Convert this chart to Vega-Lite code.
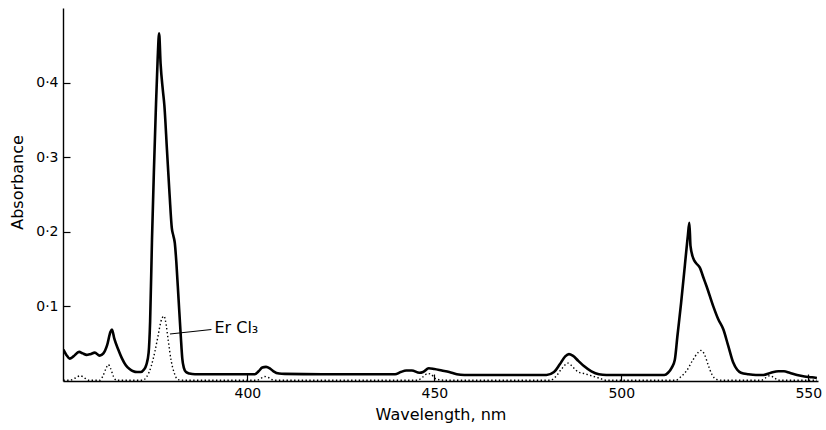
{
  "$schema": "https://vega.github.io/schema/vega-lite/v6.json",
  "width": 755,
  "height": 373,
  "autosize": "none",
  "padding": {"left": 63, "top": 8, "right": 8, "bottom": 49},
  "background": "white",
  "config": {
    "view": {"stroke": null},
    "font": "DejaVu Sans",
    "axis": {
      "grid": false,
      "domainColor": "black",
      "domainWidth": 1.4,
      "tickColor": "black",
      "tickWidth": 1.2,
      "tickSize": -7,
      "labelPadding": 12,
      "labelColor": "black",
      "labelFontSize": 14,
      "labelFont": "DejaVu Sans",
      "titleColor": "black",
      "titleFont": "DejaVu Sans",
      "titleFontSize": 16,
      "titleFontWeight": "normal"
    }
  },
  "datasets": {
    "solid": [
      {"nm": 350.8, "A": 0.042}, {"nm": 351.6, "A": 0.035}, {"nm": 352.5, "A": 0.030}, {"nm": 353.5, "A": 0.033},
      {"nm": 355.0, "A": 0.039}, {"nm": 356.0, "A": 0.037}, {"nm": 357.0, "A": 0.035}, {"nm": 358.0, "A": 0.036},
      {"nm": 359.2, "A": 0.038}, {"nm": 360.5, "A": 0.034}, {"nm": 361.5, "A": 0.037}, {"nm": 362.5, "A": 0.048},
      {"nm": 363.4, "A": 0.066}, {"nm": 363.8, "A": 0.069}, {"nm": 364.4, "A": 0.057}, {"nm": 365.5, "A": 0.042},
      {"nm": 366.5, "A": 0.030}, {"nm": 367.5, "A": 0.021}, {"nm": 368.5, "A": 0.016}, {"nm": 369.5, "A": 0.013},
      {"nm": 370.5, "A": 0.012}, {"nm": 371.5, "A": 0.012}, {"nm": 372.3, "A": 0.015}, {"nm": 373.0, "A": 0.022},
      {"nm": 373.6, "A": 0.038}, {"nm": 374.0, "A": 0.080}, {"nm": 374.5, "A": 0.190}, {"nm": 375.0, "A": 0.280},
      {"nm": 375.5, "A": 0.360}, {"nm": 376.0, "A": 0.430}, {"nm": 376.4, "A": 0.466}, {"nm": 376.8, "A": 0.425},
      {"nm": 377.4, "A": 0.390}, {"nm": 377.8, "A": 0.370}, {"nm": 378.5, "A": 0.310}, {"nm": 379.2, "A": 0.250},
      {"nm": 379.8, "A": 0.205}, {"nm": 380.2, "A": 0.195}, {"nm": 380.6, "A": 0.185}, {"nm": 381.0, "A": 0.160},
      {"nm": 381.6, "A": 0.110}, {"nm": 382.2, "A": 0.060}, {"nm": 382.6, "A": 0.030}, {"nm": 383.0, "A": 0.018},
      {"nm": 383.6, "A": 0.012}, {"nm": 384.5, "A": 0.010}, {"nm": 386.0, "A": 0.009}, {"nm": 395.0, "A": 0.009},
      {"nm": 402.0, "A": 0.009}, {"nm": 403.0, "A": 0.013}, {"nm": 404.0, "A": 0.018}, {"nm": 405.0, "A": 0.019},
      {"nm": 406.0, "A": 0.017}, {"nm": 407.0, "A": 0.013}, {"nm": 408.5, "A": 0.010}, {"nm": 410.0, "A": 0.0095},
      {"nm": 420.0, "A": 0.009}, {"nm": 430.0, "A": 0.009}, {"nm": 439.5, "A": 0.009}, {"nm": 441.0, "A": 0.012},
      {"nm": 442.5, "A": 0.014}, {"nm": 444.0, "A": 0.014}, {"nm": 446.0, "A": 0.011}, {"nm": 447.0, "A": 0.012},
      {"nm": 448.5, "A": 0.017}, {"nm": 450.0, "A": 0.016}, {"nm": 452.0, "A": 0.014}, {"nm": 454.0, "A": 0.012},
      {"nm": 456.0, "A": 0.009}, {"nm": 458.0, "A": 0.008}, {"nm": 470.0, "A": 0.008}, {"nm": 480.0, "A": 0.008},
      {"nm": 482.0, "A": 0.012}, {"nm": 483.5, "A": 0.022}, {"nm": 485.0, "A": 0.033}, {"nm": 486.0, "A": 0.036},
      {"nm": 487.0, "A": 0.034}, {"nm": 488.5, "A": 0.027}, {"nm": 490.0, "A": 0.020}, {"nm": 492.0, "A": 0.013},
      {"nm": 494.0, "A": 0.009}, {"nm": 496.0, "A": 0.008}, {"nm": 505.0, "A": 0.008}, {"nm": 511.5, "A": 0.008},
      {"nm": 512.5, "A": 0.011}, {"nm": 513.5, "A": 0.018}, {"nm": 514.3, "A": 0.028}, {"nm": 515.0, "A": 0.060},
      {"nm": 516.0, "A": 0.105}, {"nm": 517.0, "A": 0.155}, {"nm": 517.8, "A": 0.195}, {"nm": 518.2, "A": 0.212},
      {"nm": 518.5, "A": 0.181}, {"nm": 519.2, "A": 0.165}, {"nm": 520.0, "A": 0.158}, {"nm": 521.0, "A": 0.152},
      {"nm": 522.0, "A": 0.138}, {"nm": 522.8, "A": 0.127}, {"nm": 524.6, "A": 0.100}, {"nm": 525.9, "A": 0.083},
      {"nm": 527.3, "A": 0.069}, {"nm": 528.6, "A": 0.047}, {"nm": 529.9, "A": 0.025}, {"nm": 531.0, "A": 0.015},
      {"nm": 532.0, "A": 0.011}, {"nm": 534.0, "A": 0.009}, {"nm": 536.0, "A": 0.008}, {"nm": 538.0, "A": 0.008},
      {"nm": 540.0, "A": 0.011}, {"nm": 542.0, "A": 0.013}, {"nm": 543.5, "A": 0.013}, {"nm": 545.0, "A": 0.011},
      {"nm": 547.0, "A": 0.008}, {"nm": 549.0, "A": 0.006}, {"nm": 551.0, "A": 0.005}, {"nm": 552.3, "A": 0.004}
    ],
    "dotted": [
      {"nm": 350.8, "A": 0.001}, {"nm": 352.5, "A": 0.001}, {"nm": 354.0, "A": 0.004}, {"nm": 355.3, "A": 0.007},
      {"nm": 356.5, "A": 0.004}, {"nm": 357.5, "A": 0.001}, {"nm": 360.5, "A": 0.001}, {"nm": 361.3, "A": 0.006},
      {"nm": 362.3, "A": 0.018}, {"nm": 362.8, "A": 0.022}, {"nm": 363.4, "A": 0.017}, {"nm": 364.2, "A": 0.006},
      {"nm": 365.0, "A": 0.001}, {"nm": 372.0, "A": 0.001}, {"nm": 373.0, "A": 0.005}, {"nm": 374.3, "A": 0.020},
      {"nm": 375.3, "A": 0.040}, {"nm": 376.1, "A": 0.060}, {"nm": 376.9, "A": 0.080}, {"nm": 377.7, "A": 0.087},
      {"nm": 378.3, "A": 0.075}, {"nm": 378.8, "A": 0.056}, {"nm": 379.6, "A": 0.028}, {"nm": 380.5, "A": 0.010},
      {"nm": 381.4, "A": 0.002}, {"nm": 383.0, "A": 0.001}, {"nm": 402.5, "A": 0.001}, {"nm": 403.5, "A": 0.003},
      {"nm": 404.5, "A": 0.006}, {"nm": 405.5, "A": 0.005}, {"nm": 406.5, "A": 0.002}, {"nm": 407.5, "A": 0.001},
      {"nm": 445.5, "A": 0.001}, {"nm": 446.8, "A": 0.005}, {"nm": 448.2, "A": 0.010}, {"nm": 449.2, "A": 0.009},
      {"nm": 450.0, "A": 0.004}, {"nm": 451.0, "A": 0.002}, {"nm": 453.0, "A": 0.001}, {"nm": 481.0, "A": 0.001},
      {"nm": 482.5, "A": 0.006}, {"nm": 484.0, "A": 0.016}, {"nm": 485.8, "A": 0.024}, {"nm": 487.0, "A": 0.019},
      {"nm": 488.5, "A": 0.012}, {"nm": 490.0, "A": 0.010}, {"nm": 492.0, "A": 0.007}, {"nm": 494.0, "A": 0.004},
      {"nm": 496.0, "A": 0.001}, {"nm": 514.5, "A": 0.001}, {"nm": 516.0, "A": 0.006}, {"nm": 517.5, "A": 0.014},
      {"nm": 519.0, "A": 0.027}, {"nm": 520.5, "A": 0.038}, {"nm": 521.3, "A": 0.041}, {"nm": 522.2, "A": 0.036},
      {"nm": 523.2, "A": 0.022}, {"nm": 524.2, "A": 0.009}, {"nm": 525.5, "A": 0.002}, {"nm": 527.0, "A": 0.001},
      {"nm": 537.5, "A": 0.001}, {"nm": 538.5, "A": 0.004}, {"nm": 539.7, "A": 0.007}, {"nm": 541.0, "A": 0.004},
      {"nm": 542.0, "A": 0.001}, {"nm": 552.3, "A": 0.001}
    ],
    "leader": [
      {"nm": 379.3, "A": 0.063, "nm2": 390.4, "A2": 0.069, "label": "Er Cl₃", "lnm": 391.2, "lA": 0.0715}
    ]
  },
  "layer": [
    {
      "data": {"name": "solid"},
      "mark": {"type": "line", "color": "black", "strokeWidth": 2.6, "interpolate": "monotone", "clip": true},
      "encoding": {
        "x": {"field": "nm", "type": "quantitative",
              "scale": {"domain": [350.7, 552.6], "nice": false, "zero": false},
              "axis": {"values": [400, 450, 500, 550], "title": "Wavelength, nm", "titleY": 33, "titleBaseline": "middle"}},
        "y": {"field": "A", "type": "quantitative",
              "scale": {"domain": [0, 0.5], "nice": false},
              "axis": {"values": [0.1, 0.2, 0.3, 0.4],
                       "labelExpr": "replace(format(datum.value, '.1f'), '.', '·')",
                       "title": "Absorbance", "titleX": -46, "titleY": 174, "titleBaseline": "middle", "titleAngle": -90}}
      }
    },
    {
      "data": {"name": "dotted"},
      "mark": {"type": "line", "color": "black", "strokeWidth": 1.4, "strokeDash": [1.4, 2.4], "interpolate": "monotone", "clip": true},
      "encoding": {
        "x": {"field": "nm", "type": "quantitative"},
        "y": {"field": "A", "type": "quantitative"}
      }
    },
    {
      "data": {"name": "leader"},
      "mark": {"type": "rule", "color": "black", "strokeWidth": 1.2},
      "encoding": {
        "x": {"field": "nm", "type": "quantitative"},
        "y": {"field": "A", "type": "quantitative"},
        "x2": {"field": "nm2"},
        "y2": {"field": "A2"}
      }
    },
    {
      "data": {"name": "leader"},
      "mark": {"type": "text", "color": "black", "fontSize": 16, "align": "left", "baseline": "middle", "font": "DejaVu Sans"},
      "encoding": {
        "x": {"field": "lnm", "type": "quantitative"},
        "y": {"field": "lA", "type": "quantitative"},
        "text": {"field": "label"}
      }
    }
  ]
}
